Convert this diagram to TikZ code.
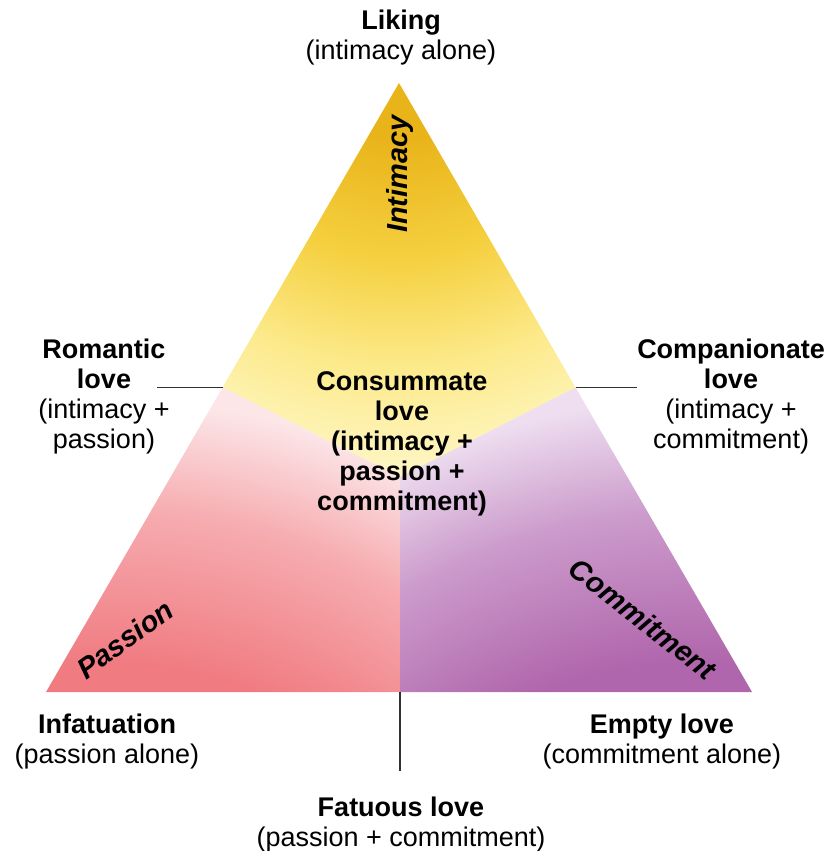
\documentclass[tikz,border=0pt]{standalone}
\usepackage{fontspec}
\setmainfont{Liberation Sans}
\definecolor{gold}{RGB}{233,180,26}
\definecolor{goldmid}{RGB}{245,208,64}
\definecolor{goldlite}{RGB}{252,234,140}
\definecolor{goldpale}{RGB}{255,248,206}
\definecolor{pinkdeep}{RGB}{240,124,130}
\definecolor{pinkmid}{RGB}{246,172,176}
\definecolor{pinkpale}{RGB}{252,230,232}
\definecolor{purpdeep}{RGB}{176,102,172}
\definecolor{purpmid}{RGB}{204,156,204}
\definecolor{purppale}{RGB}{238,222,240}
\definecolor{linegray}{RGB}{50,50,50}
\pgfdeclareradialshading{yelsh}{\pgfpoint{0bp}{0bp}}{color(0bp)=(gold); color(5.5bp)=(gold); color(12.2bp)=(goldmid); color(18.3bp)=(goldlite); color(25bp)=(goldpale); color(50bp)=(goldpale)}
\pgfdeclareradialshading{pinksh}{\pgfpoint{0bp}{0bp}}{color(0bp)=(pinkdeep); color(15bp)=(pinkdeep); color(20.2bp)=(pinkmid); color(24bp)=(pinkpale); color(50bp)=(pinkpale)}
\pgfdeclareradialshading{purpsh}{\pgfpoint{0bp}{0bp}}{color(0bp)=(purpdeep); color(15bp)=(purpdeep); color(20.2bp)=(purpmid); color(24bp)=(purppale); color(50bp)=(purppale)}
\tikzset{
  lab/.style={align=center, inner sep=0pt, anchor=north, font=\fontsize{27}{30}\selectfont},
  axislab/.style={inner sep=0pt, font=\fontsize{29}{30}\selectfont\bfseries\itshape},
  conn/.style={draw=linegray, line width=1.3pt}
}
\begin{document}
\begin{tikzpicture}[x=1pt,y=-1pt]
\useasboundingbox (0,0) rectangle (828,851);
\fill[white] (0,0) rectangle (828,851);
% geometry
\coordinate (A) at (399,83);
\coordinate (BL) at (46,692);
\coordinate (BR) at (752,692);
\coordinate (ML) at (222.5,387.5);
\coordinate (MR) at (575.5,387.5);
\coordinate (C) at (400,477);
\coordinate (MB) at (400,692);
% regions
\begin{scope}
  \clip (A) -- (MR) -- (C) -- (ML) -- cycle;
  \shade[shading=yelsh] (400,40) circle (450);
\end{scope}
\begin{scope}
  \clip (ML) -- (C) -- (MB) -- (BL) -- cycle;
  \shade[shading=pinksh] (100,1100) circle (730);
\end{scope}
\begin{scope}
  \clip (MR) -- (C) -- (MB) -- (BR) -- cycle;
  \shade[shading=purpsh] (700,1100) circle (730);
\end{scope}
% axis labels
\node[axislab, rotate=90] (intim) at (400,174) {Intimacy};
\node[axislab, rotate=36] (pass) at (125,639) {Passion};
\node[axislab, rotate=-38] (commit) at (643,619) {Commitment};
% vertex labels
\node[lab] (liking) at (401,10) {{\bfseries Liking}\\(intimacy alone)};
\node[lab] (romantic) at (104,339) {{\bfseries Romantic}\\{\bfseries love}\\(intimacy +\\passion)};
\node[lab] (compan) at (731,339) {{\bfseries Companionate}\\{\bfseries love}\\(intimacy +\\commitment)};
\node[lab, font=\fontsize{27}{30}\selectfont\bfseries] (consum) at (402,371) {Consummate\\love\\(intimacy +\\passion +\\commitment)};
\node[lab] (infat) at (107,714) {{\bfseries Infatuation}\\(passion alone)};
\node[lab] (empty) at (662,714) {{\bfseries Empty love}\\(commitment alone)};
\node[lab] (fatuous) at (401,797) {{\bfseries Fatuous love}\\(passion + commitment)};
% connectors
\coordinate (romEnd) at (157,387.5);
\coordinate (comEnd) at (637,387.5);
\coordinate (fatEnd) at (400,771);
\draw[conn] (romEnd) -- (ML);
\draw[conn] (MR) -- (comEnd);
\draw[conn] (MB) -- (fatEnd);
\end{tikzpicture}
\end{document}
